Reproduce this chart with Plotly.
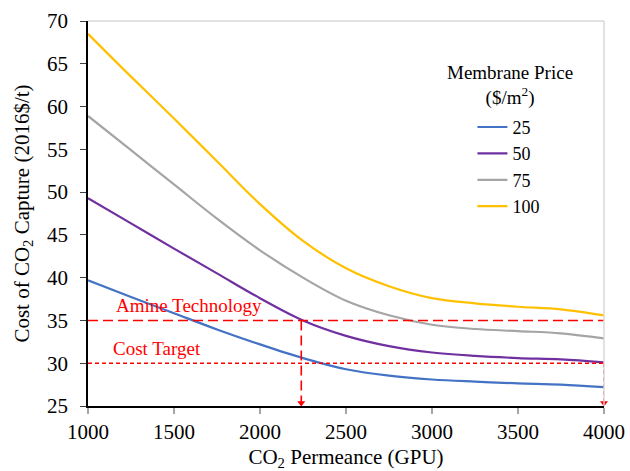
import plotly.graph_objects as go

permeance = [1000, 1250, 1500, 1750, 2000, 2250, 2500, 2750, 3000, 3250, 3500, 3750, 4000]
price_25 = [39.7, 37.75, 35.85, 33.95, 32.2, 30.6, 29.3, 28.55, 28.1, 27.85, 27.65, 27.5, 27.2]
price_50 = [49.3, 46.35, 43.4, 40.5, 37.6, 35.0, 33.2, 32.0, 31.25, 30.85, 30.6, 30.45, 30.1]
price_75 = [58.9, 54.9, 50.9, 46.9, 43.2, 40.0, 37.3, 35.6, 34.5, 34.0, 33.75, 33.5, 32.9]
price_100 = [68.5, 63.5, 58.6, 53.6, 48.6, 44.3, 41.1, 39.0, 37.6, 37.0, 36.6, 36.3, 35.6]
series_names = ["25", "50", "75", "100"]
series_colors = ["#4472C4", "#7030A0", "#A5A5A5", "#FFC000"]

amine_cost = 35
target_cost = 30
amine_cross = 2240
target_cross = 4000
x_min, x_max = 1000, 4000
y_min, y_max = 25, 70
x_ticks = [1000, 1500, 2000, 2500, 3000, 3500, 4000]
y_ticks = [25, 30, 35, 40, 45, 50, 55, 60, 65, 70]

FONT = "Liberation Serif, Times New Roman, serif"
red = "#FF0000"

fig = go.Figure()
for name, vals, col in zip(series_names, [price_25, price_50, price_75, price_100], series_colors):
    fig.add_trace(go.Scatter(x=permeance, y=vals, mode="lines", name=name, legendgroup=name,
                             line=dict(color=col, width=2.2, shape="spline", smoothing=1.0)))

fig.add_trace(go.Scatter(x=[x_min, x_max], y=[amine_cost, amine_cost], mode="lines",
                         line=dict(color=red, width=1.6, dash="10px,5px"), showlegend=False, hoverinfo="skip"))
fig.add_trace(go.Scatter(x=[x_min, x_max], y=[target_cost, target_cost], mode="lines",
                         line=dict(color=red, width=1.6, dash="4px,3px"), showlegend=False, hoverinfo="skip"))
fig.add_trace(go.Scatter(x=[amine_cross, amine_cross], y=[amine_cost, y_min + 0.4], mode="lines",
                         line=dict(color=red, width=1.6, dash="10px,5px"), showlegend=False, hoverinfo="skip",
                         cliponaxis=False))
fig.add_trace(go.Scatter(x=[target_cross, target_cross], y=[target_cost, y_min + 0.4], mode="lines",
                         line=dict(color=red, width=1.6, dash="4px,3px"), showlegend=False, hoverinfo="skip",
                         cliponaxis=False))
fig.add_trace(go.Scatter(x=[amine_cross, target_cross], y=[y_min + 0.35, y_min + 0.35], mode="markers",
                         marker=dict(symbol="triangle-down", size=7, color=red), showlegend=False,
                         hoverinfo="skip", cliponaxis=False))

fig.add_annotation(x=1588, y=36.8, text="Amine Technology", showarrow=False,
                   font=dict(family=FONT, size=19, color=red))
fig.add_annotation(x=1404, y=31.75, text="Cost Target", showarrow=False,
                   font=dict(family=FONT, size=19, color=red))
# legend title
fig.add_annotation(xref="paper", yref="paper", x=0.818, y=0.9, xanchor="center", yanchor="top",
                   text="Membrane Price<br>($/m<sup>2</sup>)", showarrow=False, align="center",
                   font=dict(family=FONT, size=19, color="black"))

fig.add_shape(type="line", xref="x domain", yref="y domain", x0=0, x1=1, y0=1, y1=1,
              line=dict(color="#D9D9D9", width=1.5))
fig.add_shape(type="line", xref="x domain", yref="y domain", x0=1, x1=1, y0=0, y1=1,
              line=dict(color="#D9D9D9", width=1.5))

fig.update_layout(
    width=630, height=471,
    margin=dict(l=88, r=26, t=21, b=65),
    paper_bgcolor="white", plot_bgcolor="white",
    font=dict(family=FONT, size=21, color="black"),
    legend=dict(
        x=0.745, y=0.772, xanchor="left", yanchor="top",
        font=dict(family=FONT, size=18, color="black"),
        bgcolor="rgba(0,0,0,0)", itemwidth=30, tracegroupgap=0,
    ),
    xaxis=dict(
        range=[x_min, x_max], tickvals=x_ticks, automargin=False,
        showgrid=False, zeroline=False, showline=True, linecolor="black", linewidth=1.5,
        ticks="outside", ticklen=6, tickcolor="#A6A6A6", tickwidth=1.5,
        title=dict(text="CO<sub>2</sub> Permeance (GPU)", font=dict(family=FONT, size=21, color="black"), standoff=7),
        tickfont=dict(family=FONT, size=21, color="black"),
    ),
    yaxis=dict(
        range=[y_min, y_max], tickvals=y_ticks, automargin=False,
        showgrid=False, zeroline=False, showline=True, linecolor="black", linewidth=1.5,
        ticks="outside", ticklen=6, tickcolor="#404040", tickwidth=1,
        ticklabelstandoff=8,
        title=dict(text="Cost of CO<sub>2</sub> Capture (2016$/t)", font=dict(family=FONT, size=21, color="black"), standoff=12),
        tickfont=dict(family=FONT, size=21, color="black"),
    ),
)

fig.write_html("out.html", config={"displayModeBar": False},
               post_script="document.body.style.margin='0';document.body.style.padding='0';")
